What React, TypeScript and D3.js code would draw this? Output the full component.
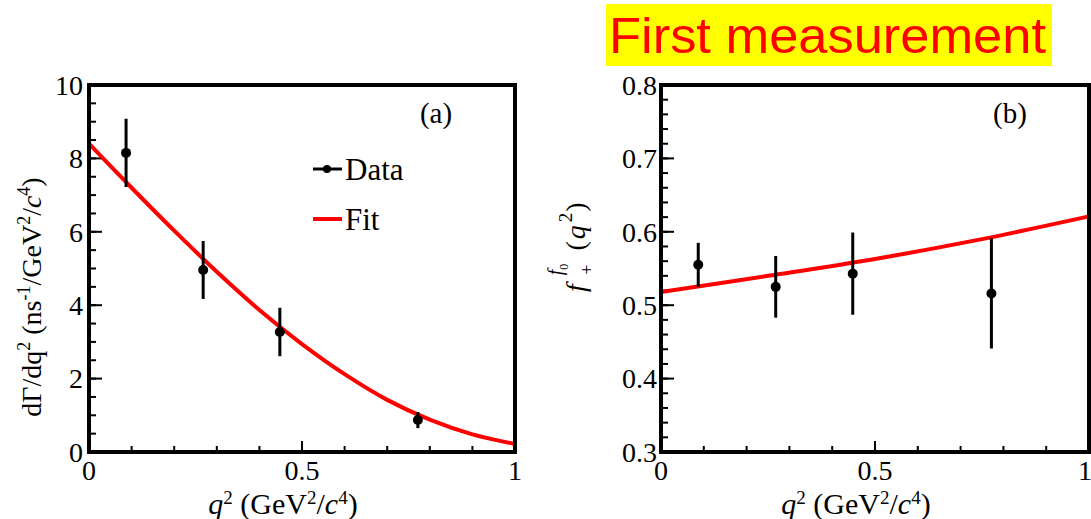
import * as d3 from "d3";

// measured points (q^2 in GeV^2/c^4)
const qData = [0.087, 0.268, 0.448, 0.772];
const rateVals = [8.15, 4.96, 3.27, 0.87];
const rateErrs = [0.93, 0.79, 0.66, 0.22];
const ffVals = [0.555, 0.525, 0.543, 0.516];
const ffErrs = [0.03, 0.042, 0.056, 0.075];

// fit curves
const rateFitQ = [0, 0.1, 0.2, 0.3, 0.4, 0.5, 0.6, 0.7, 0.8, 0.9, 1.0];
const rateFit = [8.4, 7.2, 6.03, 4.91, 3.87, 2.94, 2.12, 1.42, 0.88, 0.48, 0.22];
const ffFitQ = [0, 0.25, 0.5, 0.75, 1.0];
const ffFit = [0.518, 0.54, 0.563, 0.59, 0.621];

const serif = "'Liberation Serif', 'Times New Roman', serif";
const W = 1091;
const H = 519;

type PanelProps = {
  x0: number;
  x1: number;
  yDomain: [number, number];
  majorY: number;
  minorY: number;
  yFmt: (v: number) => string;
  vals: number[];
  errs: number[];
  fitQ: number[];
  fit: number[];
  tag: string;
  labelGap: number;
};

const Panel = (p: PanelProps) => {
  const top = 85;
  const bottom = 452;
  const x = d3.scaleLinear().domain([0, 1]).range([p.x0, p.x1]);
  const y = d3.scaleLinear().domain(p.yDomain).range([bottom, top]);
  const fmtX = d3.format("~g");

  const line = d3
    .line<number>()
    .x((_, i) => x(p.fitQ[i]))
    .y((d) => y(d))
    .curve(d3.curveCatmullRom);

  const cx = (p.x0 + p.x1) / 2;

  return (
    <g>
      {/* minor + major ticks, drawn inward */}
      {x.ticks(10).map((t) => (
        <line key={"xm" + t} x1={x(t)} x2={x(t)} y1={bottom} y2={bottom - 6} stroke="#000" strokeWidth={2} />
      ))}
      {x.ticks(2).map((t) => (
        <line key={"xM" + t} x1={x(t)} x2={x(t)} y1={bottom} y2={bottom - 11} stroke="#000" strokeWidth={2} />
      ))}
      {y.ticks(p.minorY).map((t) => (
        <line key={"ym" + t} x1={p.x0} x2={p.x0 + 7} y1={y(t)} y2={y(t)} stroke="#000" strokeWidth={2} />
      ))}
      {y.ticks(p.majorY).map((t) => (
        <line key={"yM" + t} x1={p.x0} x2={p.x0 + 13} y1={y(t)} y2={y(t)} stroke="#000" strokeWidth={2} />
      ))}

      {/* fit */}
      <path d={line(p.fit) || ""} fill="none" stroke="#ff0000" strokeWidth={4} />

      {/* data with errors */}
      {qData.map((q, i) => (
        <g key={"d" + i}>
          <line
            x1={x(q)}
            x2={x(q)}
            y1={y(p.vals[i] - p.errs[i])}
            y2={y(p.vals[i] + p.errs[i])}
            stroke="#000"
            strokeWidth={3}
          />
          <circle cx={x(q)} cy={y(p.vals[i])} r={5} fill="#000" />
        </g>
      ))}

      {/* frame */}
      <rect x={p.x0} y={top} width={p.x1 - p.x0} height={bottom - top} fill="none" stroke="#000" strokeWidth={4} />

      {/* tick labels (last one kept inside the page) */}
      {x.ticks(2).map((t) => (
        <text key={"xl" + t} x={Math.min(x(t), W - 6)} y={480} textAnchor="middle" fontSize={28} fontFamily={serif}>
          {fmtX(t)}
        </text>
      ))}
      {y.ticks(p.majorY).map((t) => (
        <text
          key={"yl" + t}
          x={p.x0 - p.labelGap}
          y={y(t)}
          dy="0.35em"
          textAnchor="end"
          fontSize={28}
          fontFamily={serif}
        >
          {p.yFmt(t)}
        </text>
      ))}

      {/* x title */}
      <text x={cx - 19} y={514} textAnchor="middle" fontSize={30} fontFamily={serif}>
        <tspan fontStyle="italic">q</tspan>
        <tspan fontSize={19} dy={-10}>2</tspan>
        <tspan dy={10}> (GeV</tspan>
        <tspan fontSize={19} dy={-10}>2</tspan>
        <tspan dy={10}>/</tspan>
        <tspan fontStyle="italic">c</tspan>
        <tspan fontSize={19} dy={-10}>4</tspan>
        <tspan dy={10}>)</tspan>
      </text>

      <text x={p.x1 - 79} y={123} textAnchor="middle" fontSize={29} fontFamily={serif}>
        {p.tag}
      </text>
    </g>
  );
};

export default function App() {
  return (
    <div style={{ position: "absolute", left: 0, top: 0 }}>
      <svg width={W} height={H} style={{ display: "block", background: "#fff" }}>
        <Panel
          x0={89}
          x1={515}
          yDomain={[0, 10]}
          majorY={5}
          minorY={20}
          yFmt={d3.format("d")}
          vals={rateVals}
          errs={rateErrs}
          fitQ={rateFitQ}
          fit={rateFit}
          tag="(a)"
          labelGap={6}
        />
        <Panel
          x0={661}
          x1={1089}
          yDomain={[0.3, 0.8]}
          majorY={5}
          minorY={25}
          yFmt={d3.format(".1f")}
          vals={ffVals}
          errs={ffErrs}
          fitQ={ffFitQ}
          fit={ffFit}
          tag="(b)"
          labelGap={4}
        />

        {/* legend, panel (a) */}
        <line x1={313} x2={342} y1={169} y2={169} stroke="#000" strokeWidth={3} />
        <circle cx={327} cy={169} r={4} fill="#000" />
        <text x={345} y={180} fontSize={31} fontFamily={serif}>Data</text>
        <line x1={313} x2={342} y1={219} y2={219} stroke="#ff0000" strokeWidth={4} />
        <text x={345} y={230} fontSize={31} fontFamily={serif}>Fit</text>

        {/* y titles */}
        <text transform="translate(41,297) rotate(-90)" textAnchor="middle" fontSize={28} fontFamily={serif}>
          <tspan>dΓ/dq</tspan>
          <tspan fontSize={18} dy={-11}>2</tspan>
          <tspan dy={11}> (ns</tspan>
          <tspan fontSize={18} dy={-11}>-1</tspan>
          <tspan dy={11}>/GeV</tspan>
          <tspan fontSize={18} dy={-11}>2</tspan>
          <tspan dy={11}>/</tspan>
          <tspan fontStyle="italic">c</tspan>
          <tspan fontSize={18} dy={-11}>4</tspan>
          <tspan dy={11}>)</tspan>
        </text>
        <text transform="rotate(-90)" x={-292} y={585} fontSize={28} fontFamily={serif}>
          <tspan fontStyle="italic">f</tspan>
          <tspan fontStyle="italic" fontSize={20} dx={9} dy={-23}>f</tspan>
          <tspan fontSize={12} dy={6}>0</tspan>
          <tspan fontSize={18} dx={-11} dy={25}>+</tspan>
          <tspan dx={14} dy={-8}>(</tspan>
          <tspan fontStyle="italic" dx={2}>q</tspan>
          <tspan fontSize={19} dx={3} dy={-13}>2</tspan>
          <tspan dx={1} dy={13}>)</tspan>
        </text>

        {/* highlight box */}
        <rect x={606} y={4} width={446} height={62} fill="#ffff00" />
        <text
          x={609}
          y={53}
          fontSize={50}
          fontFamily="'Liberation Sans', Arial, sans-serif"
          fill="#ff0000"
          textLength={437}
          lengthAdjust="spacingAndGlyphs"
        >
          First measurement
        </text>
      </svg>
    </div>
  );
}
